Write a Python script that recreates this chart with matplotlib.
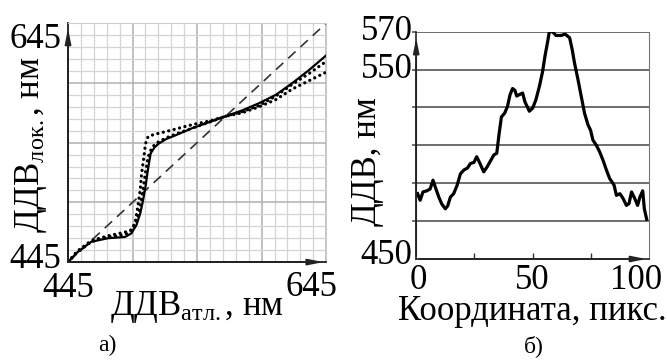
import matplotlib
matplotlib.use('Agg')
import matplotlib.pyplot as plt
import numpy as np

plt.rcParams['font.family'] = ['Liberation Serif', 'DejaVu Serif']
plt.rcParams['mathtext.fontset'] = 'custom'
plt.rcParams['mathtext.rm'] = 'Liberation Serif'
plt.rcParams['mathtext.it'] = 'Liberation Serif:italic'

# panel a) - local vs atlas dominant wavelength, nm
diag = [445, 645]
solid_x = [445, 452, 463, 476, 489, 494, 498, 501, 503, 505, 507, 509, 512, 515, 521, 528, 541, 554, 567, 580, 593, 606, 619, 632, 645]
solid_y = [445, 453, 462, 465, 466, 469, 476, 486, 496, 508, 523, 536, 541, 544, 548, 551, 557, 562, 567, 572, 578, 585, 595, 606, 618]
dotA_x = [445, 452, 463, 476, 489, 494, 497, 499, 501, 502, 504, 505, 507, 512, 520, 541, 554, 567, 580, 593, 606, 619, 632, 645]
dotA_y = [445, 454, 463, 467, 470, 472, 478, 491, 506, 519, 535, 544, 550, 552, 554, 560, 563, 567, 570, 575, 581, 590, 597, 604]
dotB_x = [445, 452, 463, 476, 489, 495, 499, 501, 503, 505, 507, 510, 514, 521, 528, 541, 554, 567, 580, 593, 606, 619, 632, 645]
dotB_y = [445, 453, 462, 466, 468, 472, 482, 492, 505, 520, 533, 541, 545, 549, 552, 557, 562, 567, 571, 576, 584, 594, 603, 613]

# panel b) - profile along a line
coord = [0.6, 1.7, 2.9, 4.6, 6, 7.2, 8.2, 9.7, 11, 12.5, 13.5, 14.7, 16.1, 17.6, 19, 20.5,
         22, 23.3, 24.8, 26, 27.4, 29, 30.5, 32, 33.4, 34.6, 35.6, 36.6, 38, 39.2, 40.3,
         41.4, 42.4, 43.2, 44.2, 45.7, 46.7, 48.6, 50, 51.4, 52.9, 54.3, 55.3, 56.5, 57.2,
         58.6, 60, 62.2, 64, 65.9, 67, 68, 69.5, 70.9, 72.3, 73.8, 74.9, 75.9, 77.4, 78.8,
         80.3, 81.7, 83.1, 85, 86, 87.5, 88.9, 90.3, 91.4, 92.5, 93.9, 95.1, 96.1, 97.3, 98, 99]
ddv = [484.5, 481, 485.4, 486, 487, 491.6, 488, 482.7, 479, 476.5, 478, 482.7, 484.5, 489, 495, 497,
       498, 500.4, 501, 504, 500.4, 496, 498.7, 502, 505, 505.8, 516, 525, 527, 530.5, 536.7,
       540, 539, 536, 536.7, 537.6, 533, 528, 529.6, 534, 541, 549, 557, 565, 570,
       570, 568, 568, 568.7, 566.8, 560.6, 553.5, 544.7, 535.8, 527, 520.8, 518, 512.8, 510, 506.6,
       502, 497, 492.5, 489, 483.6, 484.5, 481.9, 478.3, 479.2, 485.4, 481.9, 478.3, 482.7, 486, 476.5, 471]

fig = plt.figure(figsize=(6.67, 3.62), dpi=100)

# ---- panel a)
ax1 = fig.add_axes([0.102, 0.276, 0.387, 0.660])
ax1.set_xlim(445, 645)
ax1.set_ylim(445, 645)
ax1.set_xticks(np.arange(445, 646, 50))
ax1.set_yticks(np.arange(445, 646, 50))
ax1.set_xticks(np.arange(445, 646, 10), minor=True)
ax1.set_yticks(np.arange(445, 646, 10), minor=True)
ax1.grid(which='minor', color='#d4d4d4', lw=0.9)
ax1.grid(which='major', color='#b0b0b0', lw=1.1)
ax1.tick_params(which='both', length=0, labelbottom=False, labelleft=False)
for s in ['top', 'right']:
    ax1.spines[s].set_color('#cccccc')
for s in ['left', 'bottom']:
    ax1.spines[s].set_color('#222222')
    ax1.spines[s].set_linewidth(1.3)
ax1.set_axisbelow(True)

ax1.plot(diag, diag, color='#333333', lw=1.2, ls=(0, (6, 4)))
ax1.plot(solid_x, solid_y, color='black', lw=1.6)
ax1.plot(dotA_x, dotA_y, color='black', lw=2.3, ls=(0, (0.05, 1.7)), dash_capstyle='round')
ax1.plot(dotB_x, dotB_y, color='black', lw=2.3, ls=(0, (0.05, 1.7)), dash_capstyle='round')

ax1.annotate('', xy=(1.0, 0), xytext=(0, 0), xycoords='axes fraction',
             arrowprops=dict(arrowstyle='-|>,head_length=0.9,head_width=0.18', color='#222222', lw=1.3))
ax1.annotate('', xy=(0, 0.99), xytext=(0, 0), xycoords='axes fraction',
             arrowprops=dict(arrowstyle='-|>,head_length=0.9,head_width=0.18', color='#222222', lw=1.3))

fs1 = 25
ax1.text(-0.025, 1.0, '645', transform=ax1.transAxes, ha='right', va='top', fontsize=fs1)
ax1.text(-0.025, 0.01, '445', transform=ax1.transAxes, ha='right', va='center', fontsize=fs1)
ax1.text(0.0, -0.146, '445', transform=ax1.transAxes, ha='center', va='baseline', fontsize=fs1)
ax1.text(1.045, -0.14, '645', transform=ax1.transAxes, ha='right', va='baseline', fontsize=fs1)
ax1.text(0.5, -0.222, r'ДДВ$_{\mathrm{атл.}}$, нм', transform=ax1.transAxes,
         ha='center', va='baseline', fontsize=fs1)
ax1.text(-0.143, 0.49, r'ДДВ$_{\mathrm{лок.}}$, нм', transform=ax1.transAxes,
         ha='center', va='center', rotation=90, fontsize=fs1)

# ---- panel b)
ax2 = fig.add_axes([0.624, 0.2845, 0.349, 0.628])
ax2.set_xlim(0, 100)
ax2.set_ylim(450, 570)
ax2.set_yticks(np.arange(470, 571, 20))
ax2.yaxis.grid(True, color='#555555', lw=1.2)
ax2.set_xticks([25, 50, 75])
ax2.tick_params(axis='x', direction='in', length=4, width=1, color='#333333', labelbottom=False)
ax2.tick_params(axis='y', direction='out', length=3, width=1.2, color='#555555', labelleft=False)
ax2.spines['top'].set_visible(False)
ax2.spines['right'].set_color('#777777')
for s in ['left', 'bottom']:
    ax2.spines[s].set_color('#222222')
    ax2.spines[s].set_linewidth(1.2)

ax2.plot(coord, ddv, color='black', lw=2.3)

ax2.annotate('', xy=(1.0, 0), xytext=(0, 0), xycoords='axes fraction',
             arrowprops=dict(arrowstyle='-|>,head_length=0.9,head_width=0.18', color='#222222', lw=1.2))
ax2.annotate('', xy=(0, 0.985), xytext=(0, 0), xycoords='axes fraction',
             arrowprops=dict(arrowstyle='-|>,head_length=0.9,head_width=0.18', color='#222222', lw=1.2))

fs2 = 25
ax2.text(-1.5, 570, '570', ha='right', va='center', fontsize=fs2)
ax2.text(-1.5, 550, '550', ha='right', va='center', fontsize=fs2)
ax2.text(-1.5, 452, '450', ha='right', va='center', fontsize=fs2)
ax2.text(0.8, 434, '0', ha='center', va='baseline', fontsize=fs2)
ax2.text(50, 434, '50', ha='center', va='baseline', fontsize=fs2)
ax2.text(94.4, 434, '100', ha='center', va='baseline', fontsize=fs2)
ax2.text(0.5, -0.27, 'Координата, пикс.', transform=ax2.transAxes,
         ha='center', va='baseline', fontsize=fs2)
ax2.text(-0.21, 0.43, 'ДДВ, нм', transform=ax2.transAxes,
         ha='center', va='center', rotation=90, fontsize=fs2)

# captions
fig.text(0.161, 0.045, 'а)', ha='center', va='center', fontsize=17)
fig.text(0.80, 0.045, 'б)', ha='center', va='center', fontsize=17)

fig.savefig('out.png', dpi=100)
